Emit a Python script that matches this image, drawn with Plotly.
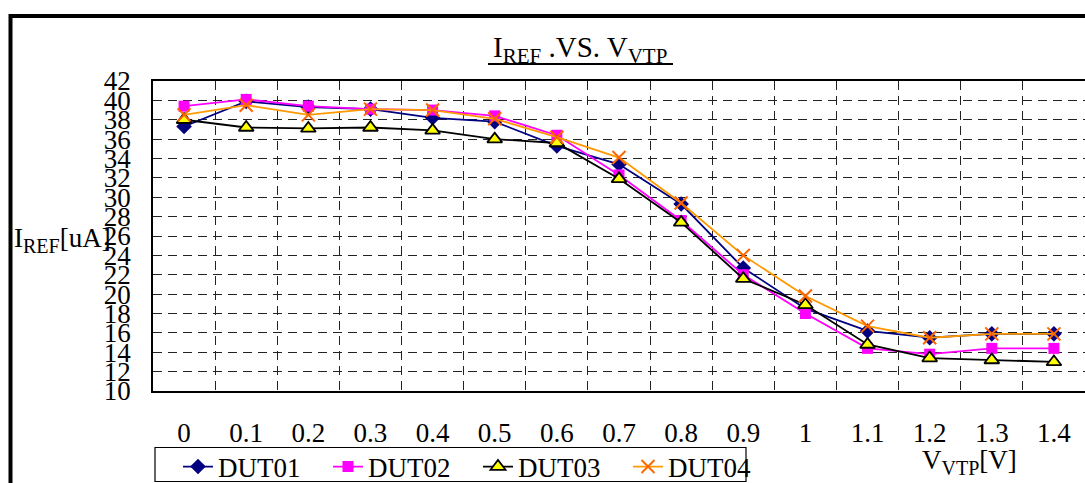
import plotly.graph_objects as go

# V_VTP sweep points (category labels) and measured I_REF for each device
v_vtp = ["0", "0.1", "0.2", "0.3", "0.4", "0.5", "0.6", "0.7",
         "0.8", "0.9", "1", "1.1", "1.2", "1.3", "1.4"]

dut01 = [37.3, 39.9, 39.3, 39.1, 38.2, 37.8, 35.3, 33.4,
         29.3, 22.7, 18.5, 16.2, 15.5, 15.9, 15.9]
dut02 = [39.4, 40.1, 39.4, 39.1, 39.0, 38.4, 36.4, 32.3,
         27.6, 22.0, 18.0, 14.4, 13.8, 14.4, 14.4]
dut03 = [38.0, 37.2, 37.1, 37.2, 36.9, 36.0, 35.6, 31.9,
         27.4, 21.6, 18.9, 14.8, 13.4, 13.2, 13.0]
dut04 = [38.5, 39.5, 38.5, 39.1, 39.0, 38.1, 36.2, 34.1,
         29.4, 24.0, 19.8, 16.7, 15.5, 15.9, 15.9]

y_ticks = list(range(10, 43, 2))

FONT = "Liberation Serif"
FS = 27

fig = go.Figure()

fig.add_trace(go.Scatter(
    x=v_vtp, y=dut01, name="DUT01", mode="lines+markers",
    line=dict(color="#000080", width=1.8),
    marker=dict(symbol="diamond", size=12, color="#000080"),
))
fig.add_trace(go.Scatter(
    x=v_vtp, y=dut02, name="DUT02", mode="lines+markers",
    line=dict(color="#FF00FF", width=1.8),
    marker=dict(symbol="square", size=11, color="#FF00FF"),
))
fig.add_trace(go.Scatter(
    x=v_vtp, y=dut03, name="DUT03", mode="lines+markers",
    line=dict(color="#000000", width=1.8),
    marker=dict(symbol="triangle-up", size=13, color="#FFFF00",
                line=dict(color="#000000", width=1.8)),
))
fig.add_trace(go.Scatter(
    x=v_vtp, y=dut04, name="DUT04", mode="lines+markers",
    line=dict(color="#FF9900", width=1.8),
    marker=dict(symbol="x-thin", size=13, color="#FF6600",
                line=dict(color="#FF6600", width=2)),
))

grid_style = dict(showgrid=True, gridcolor="#222222", gridwidth=1,
                  griddash="9px,6px")

fig.update_xaxes(
    type="category", tickson="boundaries", ticks="",
    range=[-0.5, len(v_vtp) - 0.5], automargin=False,
    tickfont=dict(family=FONT, size=FS, color="#000"),
    ticklabelstandoff=17,
    showline=True, linecolor="#000", linewidth=1.5, mirror=True,
    zeroline=False, **grid_style,
)
fig.update_yaxes(
    range=[10, 42], tickvals=y_ticks, ticks="", automargin=False,
    tickfont=dict(family=FONT, size=FS, color="#000"),
    ticklabelstandoff=15,
    showline=True, linecolor="#000", linewidth=1.5, mirror=True,
    zeroline=False, **grid_style,
)

W, H = 1085, 483
L, R, T, B = 153, 0, 81, 92
pw, ph = W - L - R, H - T - B


def px_x(x):
    return (x - L) / pw


def px_y(y):
    return (H - B - y) / ph


def sub(s, size):
    return "<sub><span style='font-size:%dpx'>%s</span></sub>" % (size, s)


title_text = "I" + sub("REF", 21) + " .VS. V" + sub("VTP", 21)

fig.update_layout(
    width=W, height=H,
    margin=dict(l=L, r=R, t=T, b=B, autoexpand=False),
    paper_bgcolor="white", plot_bgcolor="white",
    font=dict(family=FONT, size=FS, color="#000"),
    showlegend=True,
    legend=dict(
        orientation="h", x=px_x(178), y=px_y(467),
        xanchor="left", yanchor="middle",
        borderwidth=0, bgcolor="rgba(0,0,0,0)",
        font=dict(family=FONT, size=FS, color="#000"),
        itemwidth=30, entrywidth=105, tracegroupgap=0,
    ),
    annotations=[
        dict(text=title_text,
             xref="paper", yref="paper", x=px_x(580), y=px_y(50),
             xanchor="center", yanchor="middle", showarrow=False,
             font=dict(family=FONT, size=29)),
        dict(text="I" + sub("REF", 20) + "[uA]",
             xref="paper", yref="paper", x=px_x(12), y=px_y(240),
             xanchor="left", yanchor="middle", showarrow=False,
             font=dict(family=FONT, size=FS)),
        dict(text="V" + sub("VTP", 20) + "[V]",
             xref="paper", yref="paper", x=px_x(969), y=px_y(462),
             xanchor="center", yanchor="middle", showarrow=False,
             font=dict(family=FONT, size=FS)),
    ],
    shapes=[
        # outer chart frame (extends past the right and bottom edges)
        dict(type="rect", xref="paper", yref="paper",
             x0=px_x(10.5), x1=px_x(W + 20), y0=px_y(16), y1=px_y(H + 20),
             line=dict(color="#000", width=4), fillcolor="rgba(0,0,0,0)",
             layer="above"),
        # title underline
        dict(type="line", xref="paper", yref="paper",
             x0=px_x(488), x1=px_x(673), y0=px_y(64), y1=px_y(64),
             line=dict(color="#000", width=2)),
        # legend frame
        dict(type="rect", xref="paper", yref="paper",
             x0=px_x(155), x1=px_x(746), y0=px_y(447.5), y1=px_y(481.5),
             line=dict(color="#000", width=1.2), fillcolor="rgba(0,0,0,0)"),
    ],
)

fig.write_html("out.html")
